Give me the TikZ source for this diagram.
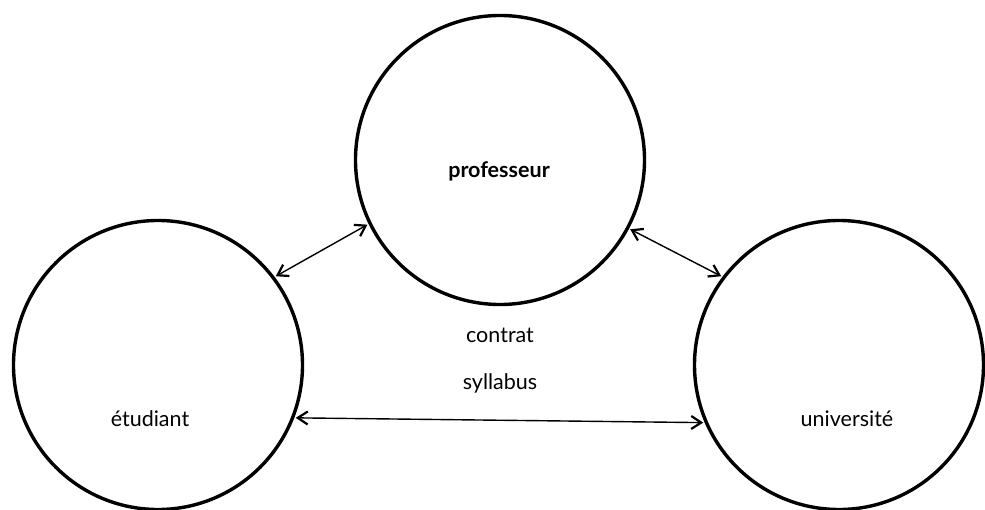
\documentclass[tikz,border=0pt]{standalone}
\usepackage{fontspec}
\setmainfont{Lato}
\usetikzlibrary{arrows.meta}
\begin{document}
\begin{tikzpicture}[x=1pt,y=1pt,
  bubble/.style={circle,draw,line width=3.4pt,minimum size=289pt,inner sep=0pt,outer sep=3pt},
  lbl/.style={font=\fontsize{21.5}{26}\selectfont,anchor=base,inner sep=0pt},
  head/.style={},
  link/.style={line width=1.4pt,{Straight Barb[length=10pt,width=13pt,line width=2.2pt]}-{Straight Barb[length=10pt,width=13pt,line width=2.2pt]}}]
\useasboundingbox (0,0) rectangle (985,509);
\node[bubble] (T) at (500,349) {};
\node[bubble] (L) at (158,144) {};
\node[bubble] (R) at (839,144) {};
\node[lbl,font=\fontsize{21.5}{26}\selectfont\bfseries] (tp) at (499,331) {professeur};
\node[lbl] (tl) at (150,83) {étudiant};
\node[lbl] (tr) at (847,83) {université};
\node[lbl] (c1) at (500,166) {contrat};
\node[lbl] (c2) at (500,120) {syllabus};
\draw[link] (L.37.5) -- (T.206.4);
\draw[link] (T.332.2) -- (R.143.6);
\draw[link] (L.-21.5) -- (R.203.2);
\end{tikzpicture}
\end{document}
